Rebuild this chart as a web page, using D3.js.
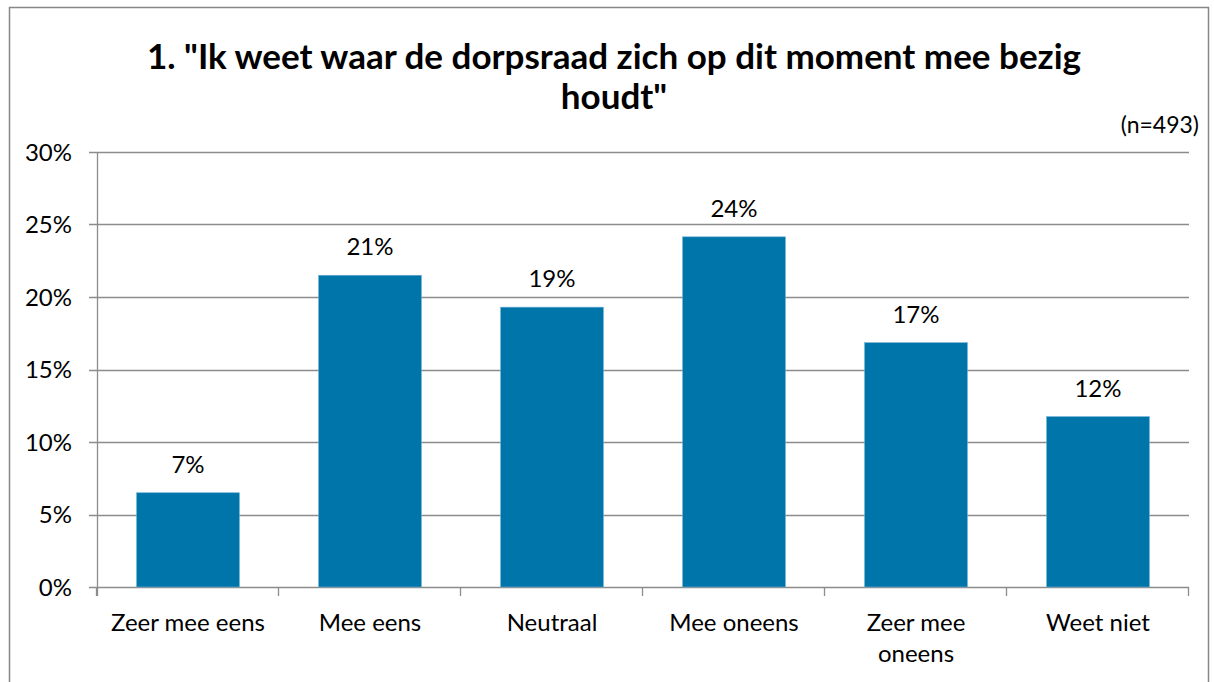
<!DOCTYPE html>
<html>
<head>
<meta charset="utf-8">
<script src="https://cdn.jsdelivr.net/npm/d3@7"></script>
<style>
  body { margin: 0; background: #fff; }
  svg text { font-family: Lato, "Open Sans", sans-serif; fill: #000; }
</style>
</head>
<body>
<div class="chart"></div>
<script>
// data
const categories = ["Zeer mee eens", "Mee eens", "Neutraal", "Mee oneens", "Zeer mee\noneens", "Weet niet"];
const values = [6.5, 21.5, 19.3, 24.15, 16.85, 11.75];
const valueLabels = ["7%", "21%", "19%", "24%", "17%", "12%"];
const yTicks = [0, 5, 10, 15, 20, 25, 30];
const titleLines = ["1. \"Ik weet waar de dorpsraad zich op dit moment mee bezig", "houdt\""];
const note = "(n=493)";

const svg_width = 1214;
const svg_height = 682;
const margin = {top: 152, right: 25, bottom: 95, left: 97};
const chart_width = svg_width - margin.left - margin.right;
const chart_height = svg_height - margin.top - margin.bottom;

const svg = d3.select(".chart").append("svg")
  .attr("width", svg_width).attr("height", svg_height);

// outer frame
svg.append("rect")
  .attr("x", 9.5).attr("y", 7.5)
  .attr("width", 1199).attr("height", 690)
  .attr("fill", "none").attr("stroke", "#878787").attr("stroke-width", 1.5);

const g = svg.append("g").attr("transform", `translate(${margin.left},${margin.top})`);

const x = d3.scaleBand().domain(d3.range(categories.length))
  .range([0, chart_width]).paddingInner(0.435).paddingOuter(0.2175);
const y = d3.scaleLinear().domain([0, 30]).range([chart_height, 0]);

// gridlines
g.selectAll(".grid").data(yTicks).enter().append("line")
  .attr("x1", -8).attr("x2", chart_width)
  .attr("y1", d => Math.round(y(d)) + 0.5).attr("y2", d => Math.round(y(d)) + 0.5)
  .attr("stroke", "#8c8c8c").attr("stroke-width", 1.3);

// y labels
g.selectAll(".ylab").data(yTicks).enter().append("text")
  .attr("x", -25).attr("y", d => y(d))
  .attr("dy", "0.36em")
  .attr("text-anchor", "end")
  .style("font-size", "24px")
  .text(d => d + "%");

// bars
g.selectAll(".bar").data(values).enter().append("rect")
  .attr("x", (d, i) => x(i))
  .attr("y", d => y(d))
  .attr("width", x.bandwidth())
  .attr("height", d => chart_height - y(d))
  .attr("fill", "#0075aa")
  .attr("stroke", "#6fb0d4").attr("stroke-width", 0.6);

// value labels
g.selectAll(".vlab").data(values).enter().append("text")
  .attr("x", (d, i) => x(i) + x.bandwidth() / 2)
  .attr("y", d => y(d) - 20)
  .attr("text-anchor", "middle")
  .style("font-size", "24px")
  .text((d, i) => valueLabels[i]);

// y axis line
g.append("line")
  .attr("x1", 0.5).attr("x2", 0.5).attr("y1", 0).attr("y2", chart_height + 9)
  .attr("stroke", "#8c8c8c").attr("stroke-width", 1.3);

// x axis ticks
const step = chart_width / categories.length;
g.selectAll(".xtick").data(d3.range(categories.length + 1)).enter().append("line")
  .attr("x1", d => Math.round(d * step) - 0.5).attr("x2", d => Math.round(d * step) - 0.5)
  .attr("y1", chart_height).attr("y2", chart_height + 9)
  .attr("stroke", "#8c8c8c").attr("stroke-width", 1.3);

// x labels
const xl = g.selectAll(".xlab").data(categories).enter().append("text")
  .attr("x", (d, i) => x(i) + x.bandwidth() / 2)
  .attr("y", chart_height + 44)
  .attr("text-anchor", "middle")
  .style("font-size", "24px");
xl.each(function(d, i) {
  const t = d3.select(this);
  d.split("\n").forEach((line, k) => {
    t.append("tspan")
      .attr("x", x(i) + x.bandwidth() / 2)
      .attr("dy", k === 0 ? 0 : 31)
      .text(line);
  });
});

// title
svg.selectAll(".title").data(titleLines).enter().append("text")
  .attr("x", 614)
  .attr("y", (d, i) => 69 + i * 40)
  .attr("text-anchor", "middle")
  .style("font-size", "35px")
  .style("font-weight", "bold")
  .text(d => d);

svg.append("text")
  .attr("x", 1199).attr("y", 133)
  .attr("text-anchor", "end")
  .style("font-size", "23px")
  .text(note);
</script>
</body>
</html>
